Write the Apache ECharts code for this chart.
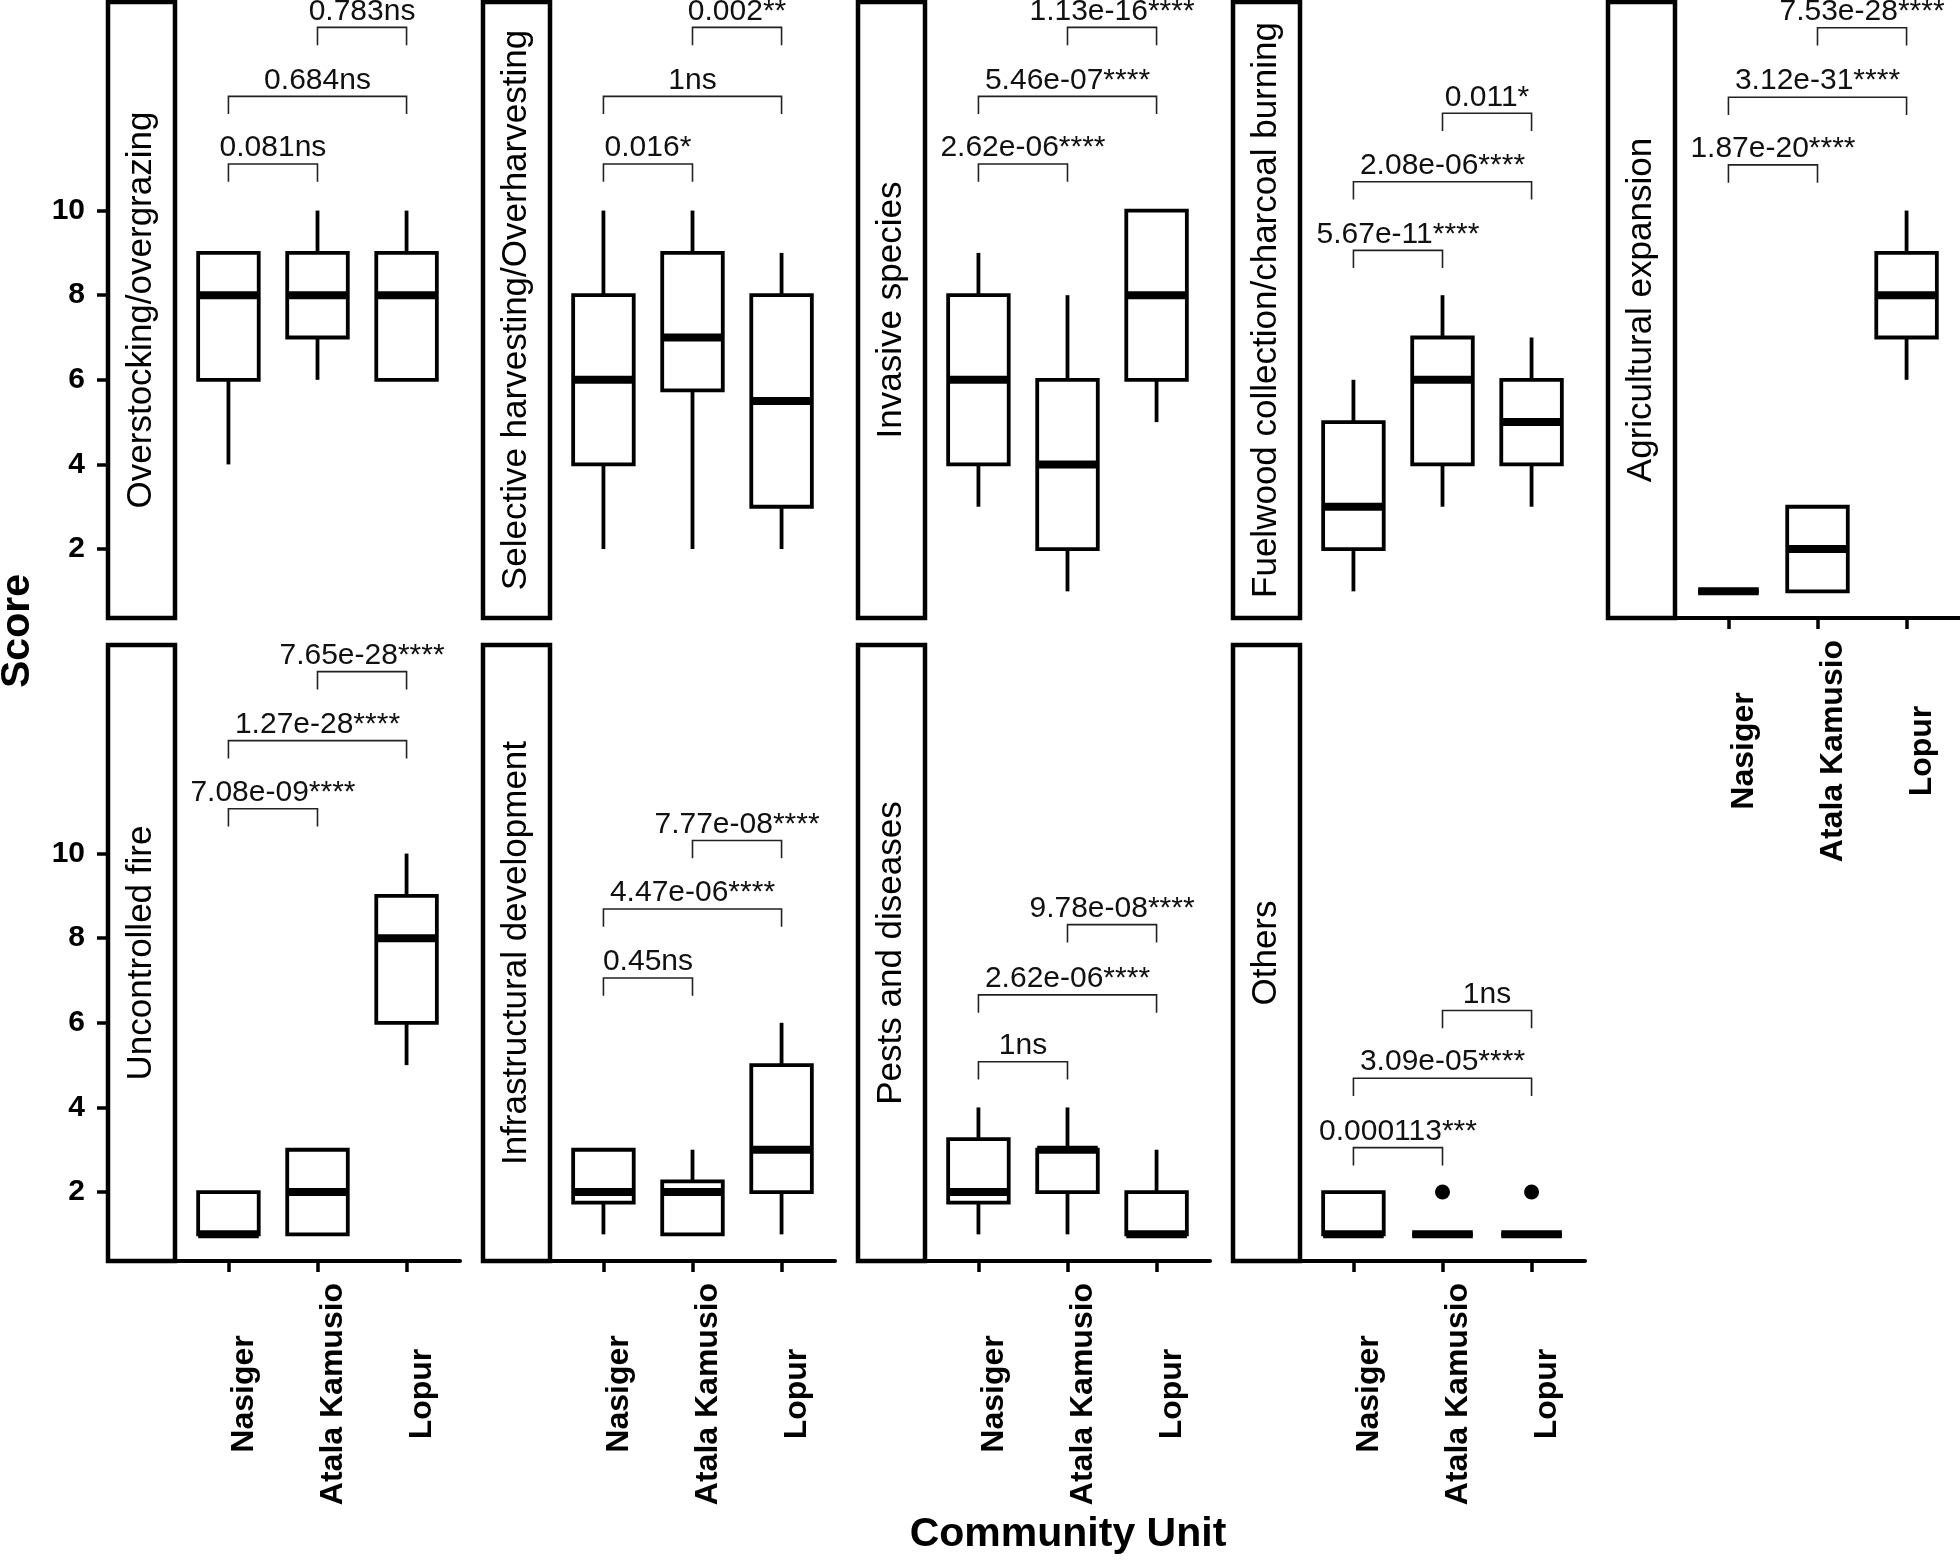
<!DOCTYPE html>
<html><head><meta charset="utf-8">
<script src="https://cdn.jsdelivr.net/npm/echarts@6/dist/echarts.min.js"></script>
<style>html,body{margin:0;padding:0;background:#fff}#c{width:1960px;height:1562px}</style>
</head><body><div id="c"></div>
<script>
// ---------- DATA ----------
const categories = ['Nasiger', 'Atala Kamusio', 'Lopur'];
const yTicks = [2, 4, 6, 8, 10];
const panelTitles = ['Overstocking/overgrazing', 'Selective harvesting/Overharvesting', 'Invasive species',
  'Fuelwood collection/charcoal burning', 'Agricultural expansion', 'Uncontrolled fire',
  'Infrastructural development', 'Pests and diseases', 'Others'];

// box statistics per community: [min, Q1, median, Q3, max]
const overstocking   = [[4, 6, 8, 9, 9], [6, 7, 8, 9, 10], [6, 6, 8, 9, 10]];
const selective      = [[2, 4, 6, 8, 10], [2, 5.75, 7, 9, 10], [2, 3, 5.5, 8, 9]];
const invasive       = [[3, 4, 6, 8, 9], [1, 2, 4, 6, 8], [5, 6, 8, 10, 10]];
const fuelwood       = [[1, 2, 3, 5, 6], [3, 4, 6, 7, 8], [3, 4, 5, 6, 7]];
const agricultural   = [[1, 1, 1, 1, 1], [1, 1, 2, 3, 3], [6, 7, 8, 9, 10]];
const fire           = [[1, 1, 1, 2, 2], [1, 1, 2, 3, 3], [5, 6, 8, 9, 10]];
const infrastructure = [[1, 1.75, 2, 3, 3], [1, 1, 2, 2.25, 3], [1, 2, 3, 5, 6]];
const pests          = [[1, 1.75, 2, 3.25, 4], [1, 2, 3, 3, 4], [1, 1, 1, 2, 3]];
const others         = [[1, 1, 1, 2, 2], [1, 1, 1, 1, 1], [1, 1, 1, 1, 1]];
// outliers [community index (1-based), score]
const othersOutliers = [[2, 2], [3, 2]];

// pairwise tests: [from, to, bracket height, label]
const overstockingTests   = [[1, 2, 11.1, '0.081ns'], [1, 3, 12.7, '0.684ns'], [2, 3, 14.33, '0.783ns']];
const selectiveTests      = [[1, 2, 11.1, '0.016*'], [1, 3, 12.7, '1ns'], [2, 3, 14.33, '0.002**']];
const invasiveTests       = [[1, 2, 11.1, '2.62e-06****'], [1, 3, 12.7, '5.46e-07****'], [2, 3, 14.33, '1.13e-16****']];
const fuelwoodTests       = [[1, 2, 9.06, '5.67e-11****'], [1, 3, 10.68, '2.08e-06****'], [2, 3, 12.3, '0.011*']];
const agriculturalTests   = [[1, 2, 11.08, '1.87e-20****'], [1, 3, 12.68, '3.12e-31****'], [2, 3, 14.32, '7.53e-28****']];
const fireTests           = [[1, 2, 11.06, '7.08e-09****'], [1, 3, 12.67, '1.27e-28****'], [2, 3, 14.3, '7.65e-28****']];
const infrastructureTests = [[1, 2, 7.06, '0.45ns'], [1, 3, 8.69, '4.47e-06****'], [2, 3, 10.31, '7.77e-08****']];
const pestsTests          = [[1, 2, 5.08, '1ns'], [1, 3, 6.66, '2.62e-06****'], [2, 3, 8.32, '9.78e-08****']];
const othersTests         = [[1, 2, 3.05, '0.000113***'], [1, 3, 4.69, '3.09e-05****'], [2, 3, 6.29, '1ns']];

const panelStats = [overstocking, selective, invasive, fuelwood, agricultural, fire, infrastructure, pests, others];
const panelTests = [overstockingTests, selectiveTests, invasiveTests, fuelwoodTests, agriculturalTests,
  fireTests, infrastructureTests, pestsTests, othersTests];

// ---------- LAYOUT ----------
const FONT = '"Liberation Sans", Arial, Helvetica, sans-serif';
const stripW = 67, panelW = 285, panelH = 616;
const colLeft = [175, 550, 925, 1300, 1675];
const rowTop = [2, 645];
const positions = [[0,0],[0,1],[0,2],[0,3],[0,4],[1,0],[1,1],[1,2],[1,3]];
const Y_MIN = 0.37, Y_MAX = 14.93;
const showX = [false, false, false, false, true, true, true, true, true];

function boxRender(params, api) {
  const x = api.value(0);
  const v = [1, 2, 3, 4, 5].map(i => api.value(i));
  const pMin = api.coord([x, v[0]]), pQ1 = api.coord([x, v[1]]), pMed = api.coord([x, v[2]]);
  const pQ3 = api.coord([x, v[3]]), pMax = api.coord([x, v[4]]);
  const hw = api.size([0.68, 0])[0] / 2;
  const cx = pMed[0];
  const ls = { stroke: '#000', lineWidth: 3.8 };
  const children = [];
  if (v[4] > v[3]) children.push({ type: 'line', shape: { x1: cx, y1: pQ3[1], x2: cx, y2: pMax[1] }, style: ls });
  if (v[0] < v[1]) children.push({ type: 'line', shape: { x1: cx, y1: pMin[1], x2: cx, y2: pQ1[1] }, style: ls });
  children.push({ type: 'rect', shape: { x: cx - hw, y: pQ3[1], width: 2 * hw, height: pQ1[1] - pQ3[1] },
    style: { fill: '#fff', stroke: '#000', lineWidth: 3.8 } });
  children.push({ type: 'line', shape: { x1: cx - hw, y1: pMed[1], x2: cx + hw, y2: pMed[1] },
    style: { stroke: '#000', lineWidth: 8 } });
  return { type: 'group', children };
}

function bracketRender(tests) {
  return function (params, api) {
    const x1 = api.value(0), x2 = api.value(1), y = api.value(2);
    const a = api.coord([x1, y]), b = api.coord([x2, y]);
    const tip = api.size([0, 0.42])[1];
    return { type: 'group', children: [
      { type: 'polyline', shape: { points: [[a[0], a[1] + tip], [a[0], a[1]], [b[0], b[1]], [b[0], b[1] + tip]] },
        style: { stroke: '#222', lineWidth: 1.6, fill: 'none' } },
      { type: 'text', x: (a[0] + b[0]) / 2, y: a[1] - 1,
        style: { text: tests[params.dataIndex][3], fontSize: 30, fontFamily: FONT, fill: '#111',
          align: 'center', verticalAlign: 'bottom', textAlign: 'center', textVerticalAlign: 'bottom' } }
    ]};
  };
}

const grid = [], xAxis = [], yAxis = [], series = [], elements = [];
positions.forEach(([r, c], i) => {
  const left = colLeft[c], top = rowTop[r];
  grid.push({ left, top, width: panelW, height: panelH, containLabel: false });
  xAxis.push({
    gridIndex: i, type: 'value', min: 0.4, max: 3.6, show: showX[i],
    splitLine: { show: false },
    axisLine: { show: true, onZero: false, lineStyle: { color: '#000', width: 4 } },
    axisTick: { show: true, customValues: [1, 2, 3], length: 11, lineStyle: { color: '#000', width: 3.5 } },
    axisLabel: { show: true, customValues: [1, 2, 3], formatter: v => categories[Math.round(v) - 1],
      rotate: 90, align: 'center', verticalAlign: 'top', margin: 133,
      fontSize: 32, fontWeight: 'bold', fontFamily: FONT, color: '#000' }
  });
  yAxis.push({
    gridIndex: i, type: 'value', min: Y_MIN, max: Y_MAX, show: c === 0, offset: stripW,
    splitLine: { show: false },
    axisLine: { show: true, lineStyle: { color: '#000', width: 4 } },
    axisTick: { show: true, customValues: yTicks, length: 11, lineStyle: { color: '#000', width: 3.5 } },
    axisLabel: { show: true, customValues: yTicks, margin: 23, fontSize: 30, fontWeight: 'bold', fontFamily: FONT, color: '#000' }
  });
  const stats = panelStats[i];
  series.push({
    type: 'custom', xAxisIndex: i, yAxisIndex: i, renderItem: boxRender,
    encode: { x: 0, y: [1, 2, 3, 4, 5] },
    data: stats.map((s, k) => [k + 1, ...s])
  });
  const tests = panelTests[i];
  series.push({
    type: 'custom', xAxisIndex: i, yAxisIndex: i, renderItem: bracketRender(tests),
    encode: { x: [0, 1], y: 2 },
    data: tests.map(t => [t[0], t[1], t[2]])
  });
  // strip
  elements.push({ type: 'rect', shape: { x: left - stripW, y: top, width: stripW, height: panelH },
    style: { fill: '#fff', stroke: '#000', lineWidth: 4.5 }, z: 1 });
  elements.push({ type: 'text', x: left - stripW / 2, y: top + panelH / 2, rotation: Math.PI / 2, z: 2,
    style: { text: panelTitles[i], fontSize: 35, fontFamily: FONT, fill: '#000',
      align: 'center', verticalAlign: 'middle', textAlign: 'center', textVerticalAlign: 'middle' } });
});
// outliers in "Others" panel
series.push({
  type: 'scatter', xAxisIndex: 8, yAxisIndex: 8, symbol: 'circle', symbolSize: 15,
  itemStyle: { color: '#000', opacity: 1 }, data: othersOutliers
});

elements.push({ type: 'text', x: 18, y: 631, rotation: Math.PI / 2,
  style: { text: 'Score', fontSize: 41, fontWeight: 'bold', fontFamily: FONT, fill: '#000',
    align: 'center', verticalAlign: 'middle', textAlign: 'center', textVerticalAlign: 'middle' } });
elements.push({ type: 'text', x: 1068, y: 1535,
  style: { text: 'Community Unit', fontSize: 41, fontWeight: 'bold', fontFamily: FONT, fill: '#000',
    align: 'center', verticalAlign: 'middle', textAlign: 'center', textVerticalAlign: 'middle' } });

const chart = echarts.init(document.getElementById('c'), null, { renderer: 'canvas', width: 1960, height: 1562 });
chart.setOption({
  backgroundColor: '#fff', animation: false,
  grid, xAxis, yAxis, series,
  graphic: { elements }
});
</script></body></html>
